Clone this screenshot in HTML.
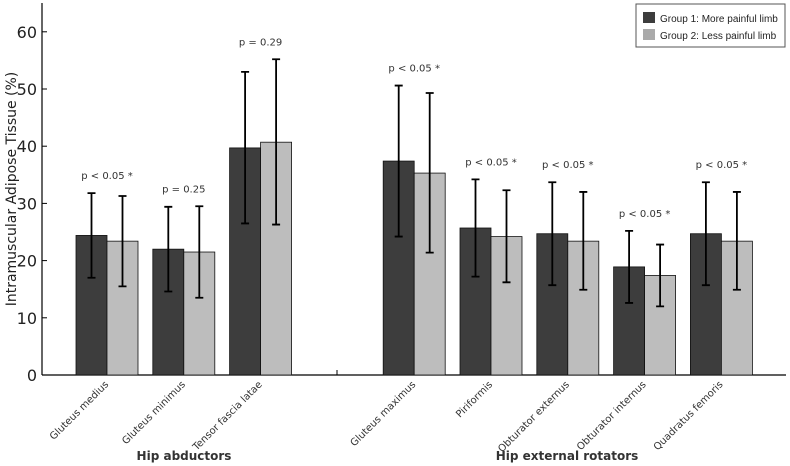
<!DOCTYPE html>
<html><head><meta charset="utf-8"><style>
body{margin:0;background:#fff}
svg{display:block;font-family:"DejaVu Sans","Liberation Sans",sans-serif}
</style></head><body>
<svg id="chart" width="790" height="466" viewBox="0 0 790 466"></svg>
<script>
const categories=["Gluteus medius","Gluteus minimus","Tensor fascia latae","Gluteus maximus","Piriformis","Obturator externus","Obturator internus","Quadratus femoris"];
const slots=[0,1,2,4,5,6,7,8];
const group1=[24.4,22.0,39.7,37.4,25.7,24.7,18.9,24.7];
const group1Lo=[17.0,14.6,26.5,24.2,17.2,15.7,12.6,15.7];
const group1Hi=[31.8,29.4,53.0,50.6,34.2,33.7,25.2,33.7];
const group2=[23.4,21.5,40.7,35.3,24.2,23.4,17.4,23.4];
const group2Lo=[15.5,13.5,26.3,21.4,16.2,14.9,12.0,14.9];
const group2Hi=[31.3,29.5,55.2,49.3,32.3,32.0,22.8,32.0];
const pLabels=["p < 0.05 *","p = 0.25","p = 0.29","p < 0.05 *","p < 0.05 *","p < 0.05 *","p < 0.05 *","p < 0.05 *"];
const yTicks=[0,10,20,30,40,50,60];
const NS="http://www.w3.org/2000/svg";
const svg=document.getElementById('chart');
const y=v=>375-v*5.72;
const x=s=>76+s*76.8;
function mk(t,a,txt){const e=document.createElementNS(NS,t);for(const k in a)e.setAttribute(k,a[k]);if(txt!==undefined)e.textContent=txt;svg.appendChild(e);return e;}
let e;
e=mk('line',{x1:42,y1:3,x2:42,y2:375,stroke:'#000','stroke-width':1.2});


e=mk('line',{x1:42,y1:375,x2:786,y2:375,stroke:'#000','stroke-width':1.2});


e=mk('line',{x1:337,y1:370,x2:337,y2:375,stroke:'#000'});


yTicks.forEach(t=>{
  e=mk('line',{x1:42,y1:y(t),x2:47,y2:y(t),stroke:'#000'});
  
  
  e=mk('text',{x:37,y:y(t)+6,'text-anchor':'end','font-size':16,fill:'#222'},t);
  
  
});
e=mk('text',{transform:'translate(16,189) rotate(-90)','text-anchor':'middle','font-size':14,fill:'#222'},'Intramuscular Adipose Tissue (%)');


function err(cx,lo,hi){
  e=mk('path',{d:`M${cx},${y(lo)}V${y(hi)}M${cx-4},${y(lo)}H${cx+4}M${cx-4},${y(hi)}H${cx+4}`,stroke:'#000','stroke-width':1.8,fill:'none'});
  
  
}
categories.forEach((c,i)=>{
  const x0=x(slots[i]);
  e=mk('rect',{x:x0,y:y(group1[i]),width:31,height:375-y(group1[i]),fill:'#3d3d3d',stroke:'#111','stroke-width':0.8});
  
  
  e=mk('rect',{x:x0+31,y:y(group2[i]),width:31,height:375-y(group2[i]),fill:'#bdbdbd',stroke:'#111','stroke-width':0.8});
  
  
  err(x0+15.5,group1Lo[i],group1Hi[i]);
  err(x0+46.5,group2Lo[i],group2Hi[i]);
  const top=Math.max(group1Hi[i],group2Hi[i]);
  e=mk('text',{x:x0+31,y:y(top)-14,'text-anchor':'middle','font-size':10,fill:'#333'},pLabels[i]);
  
  
  e=mk('text',{transform:`translate(${x0+33},${385}) rotate(-45)`,'text-anchor':'end','font-size':10,fill:'#333'},c);
  
  
});
e=mk('text',{x:184,y:460,'text-anchor':'middle','font-size':12,'font-weight':'bold',fill:'#333'},'Hip abductors');


e=mk('text',{x:567,y:460,'text-anchor':'middle','font-size':12,'font-weight':'bold',fill:'#333'},'Hip external rotators');


e=mk('rect',{x:636,y:4,width:149,height:43,fill:'#fff',stroke:'#555'});


e=mk('rect',{x:643,y:12,width:12,height:11,fill:'#3d3d3d'});


e=mk('text',{x:660,y:22,'font-size':10,fill:'#222','font-family':'Liberation Sans, sans-serif'},'Group 1: More painful limb');


e=mk('rect',{x:643,y:29,width:12,height:11,fill:'#aaa'});


e=mk('text',{x:660,y:39,'font-size':10,fill:'#222','font-family':'Liberation Sans, sans-serif'},'Group 2: Less painful limb');


</script>
</body></html>
